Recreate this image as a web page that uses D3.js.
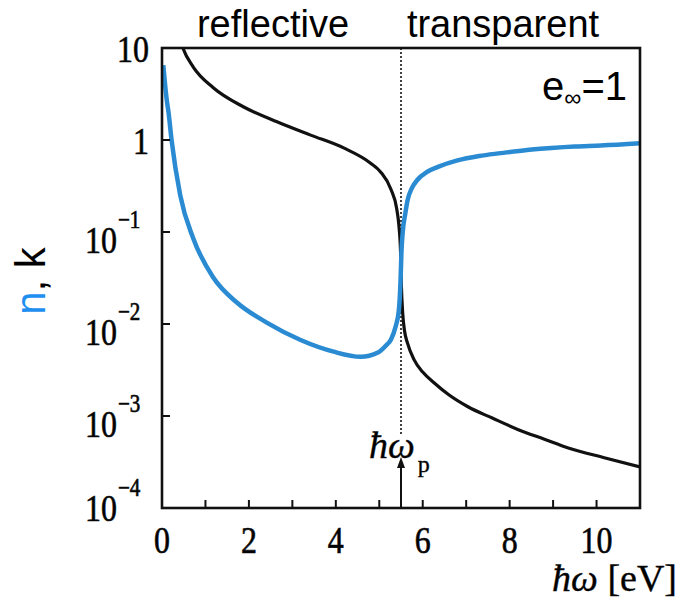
<!DOCTYPE html>
<html>
<head>
<meta charset="utf-8">
<style>
  body { margin: 0; background: white; }
  svg { display: block; }
</style>
</head>
<body>
<div id="chart"></div>
<script src="https://d3js.org/d3.v7.min.js"></script>
<script>
// extinction coefficient k (black)
const kOmega = [0.45, 0.48, 0.72, 1.18, 1.87, 2.66, 3.42, 4.18, 4.8, 5.03, 5.27, 5.4, 5.45, 5.49, 5.51, 5.54, 5.58, 5.65, 5.8, 6.0, 6.26, 6.6, 7.04, 7.6, 8.2, 8.8, 9.35, 10.2, 11.0];
const kValues = [11, 10, 6.2, 3.7, 2.3, 1.57, 1.13, 0.82, 0.56, 0.45, 0.29, 0.18, 0.12, 0.06, 0.025, 0.013, 0.0085, 0.0062, 0.0041, 0.003, 0.0023, 0.0017, 0.00126, 0.00095, 0.00071, 0.00056, 0.00045, 0.00035, 0.00028];

// refractive index n (blue)
const nOmega = [0.03, 0.11, 0.15, 0.22, 0.42, 0.72, 1.18, 1.73, 2.42, 3.19, 3.95, 4.57, 4.97, 5.15, 5.27, 5.38, 5.45, 5.49, 5.51, 5.54, 5.6, 5.65, 5.75, 5.88, 6.1, 6.35, 6.8, 7.3, 7.8, 8.4, 8.96, 9.5, 10.1, 11.0];
const nValues = [6.5, 2.7, 2.0, 1.0, 0.25, 0.085, 0.032, 0.017, 0.0103, 0.0067, 0.005, 0.0044, 0.0049, 0.0058, 0.0068, 0.0095, 0.014, 0.03, 0.06, 0.1, 0.16, 0.22, 0.3, 0.37, 0.45, 0.51, 0.6, 0.67, 0.72, 0.78, 0.82, 0.85, 0.87, 0.92];

const xTicks = [0, 2, 4, 6, 8, 10];
const xMinorTicks = [1, 2, 3, 4, 5, 6, 7, 8, 9, 10];
const yTicks = [10, 1, 0.1, 0.01, 0.001, 0.0001];
const yTickLabels = [["10", ""], ["1", ""], ["10", "\u22121"], ["10", "\u22122"], ["10", "\u22123"], ["10", "\u22124"]];
const plasmaOmega = 5.5;

const W = 679, H = 598;
const pLeft = 162, pRight = 640, pTop = 48, pBottom = 508;

const svg = d3.select("#chart").append("svg")
    .attr("width", W).attr("height", H);

const x = d3.scaleLinear().domain([0, 11]).range([pLeft, pRight]);
const y = d3.scaleLog().domain([1e-4, 10]).range([pBottom, pTop]);

svg.append("clipPath").attr("id", "clip")
    .append("rect").attr("x", pLeft).attr("y", pTop)
    .attr("width", pRight - pLeft).attr("height", pBottom - pTop);

// plasma frequency dotted line
svg.append("line")
    .attr("x1", x(plasmaOmega)).attr("x2", x(plasmaOmega))
    .attr("y1", pTop).attr("y2", 435)
    .attr("stroke", "#111").attr("stroke-width", 1.6)
    .attr("stroke-dasharray", "2,2");

const line = d3.line()
    .x(d => x(d[0]))
    .y(d => y(d[1]))
    .curve(d3.curveMonotoneX);

svg.append("path")
    .datum(kOmega.map((w, i) => [w, kValues[i]]))
    .attr("clip-path", "url(#clip)")
    .attr("fill", "none")
    .attr("stroke", "#111")
    .attr("stroke-width", 3.2)
    .attr("d", line);

svg.append("path")
    .datum(nOmega.map((w, i) => [w, nValues[i]]))
    .attr("clip-path", "url(#clip)")
    .attr("fill", "none")
    .attr("stroke", "#2a8bd2")
    .attr("stroke-width", 4.5)
    .attr("d", line);

// frame
svg.append("rect")
    .attr("x", pLeft).attr("y", pTop)
    .attr("width", pRight - pLeft).attr("height", pBottom - pTop)
    .attr("fill", "none").attr("stroke", "#111").attr("stroke-width", 2.6);

// inward ticks
svg.selectAll(".xt").data(xMinorTicks).enter().append("line")
    .attr("x1", d => x(d)).attr("x2", d => x(d))
    .attr("y1", pBottom).attr("y2", pBottom - 8)
    .attr("stroke", "#111").attr("stroke-width", 2);
svg.selectAll(".yt").data(yTicks).enter().append("line")
    .attr("x1", pLeft).attr("x2", pLeft + 8)
    .attr("y1", d => y(d)).attr("y2", d => y(d))
    .attr("stroke", "#111").attr("stroke-width", 2);

const serif = "'Liberation Serif', 'DejaVu Serif', serif";
const sans = "'Liberation Sans', Arial, sans-serif";

// scanned labels are narrow and tall: squeeze horizontally
function tickText(px, py, str, size, anchor) {
  return svg.append("text")
    .attr("transform", `translate(${px},${py}) scale(0.84,1)`)
    .attr("text-anchor", anchor)
    .attr("font-family", serif).attr("font-size", size)
    .attr("stroke", "#111").attr("stroke-width", 0.7)
    .text(str);
}

// x tick labels
xTicks.forEach(d => tickText(x(d), 553, d, 38, "middle"));

// y tick labels
yTicks.forEach((v, i) => {
  const [base, sup] = yTickLabels[i];
  const yy = y(v);
  if (!sup) {
    tickText(149, yy + 14, base, 38, "end");
  } else {
    const by = i === yTicks.length - 1 ? yy + 13 : yy + 21;
    tickText(117, by, base, 38, "end");
    tickText(118, by - 25, sup, 25, "start");
  }
});

// x axis label
const xl = svg.append("text")
    .attr("x", 677).attr("y", 591)
    .attr("text-anchor", "end")
    .attr("font-family", serif).attr("font-size", 38)
    .attr("stroke", "#111").attr("stroke-width", 0.4);
xl.append("tspan").attr("font-style", "italic").text("\u0127\u03c9");
xl.append("tspan").text(" [eV]");

// plasma label + arrow
const pl = svg.append("text")
    .attr("x", 369).attr("y", 458)
    .attr("font-family", serif).attr("font-size", 38)
    .attr("stroke", "#111").attr("stroke-width", 0.4);
pl.append("tspan").attr("font-style", "italic").text("\u0127\u03c9");
pl.append("tspan").attr("font-size", 24).attr("dy", 14).attr("dx", 3).text("p");

svg.append("line")
    .attr("x1", x(plasmaOmega)).attr("x2", x(plasmaOmega))
    .attr("y1", pBottom).attr("y2", 466)
    .attr("stroke", "#111").attr("stroke-width", 2);
svg.append("path")
    .attr("d", `M${x(plasmaOmega)},457 l-4,11 l8,0 z`)
    .attr("fill", "#111");

// y axis label
const yl = svg.append("text")
    .attr("transform", "translate(45,281) rotate(-90)")
    .attr("text-anchor", "middle")
    .attr("font-family", sans).attr("font-size", 42);
yl.append("tspan").attr("fill", "#1e8ff0").text("n");
yl.append("tspan").attr("fill", "#000").text(", k");

// region labels
svg.append("text")
    .attr("x", 273).attr("y", 37)
    .attr("text-anchor", "middle")
    .attr("font-family", sans).attr("font-size", 38)
    .text("reflective");
svg.append("text")
    .attr("x", 503).attr("y", 37)
    .attr("text-anchor", "middle")
    .attr("font-family", sans).attr("font-size", 38)
    .text("transparent");

// epsilon label
const el = svg.append("text")
    .attr("x", 627).attr("y", 100)
    .attr("text-anchor", "end")
    .attr("font-family", sans).attr("font-size", 40);
el.append("tspan").text("e");
el.append("tspan").attr("font-size", 24).attr("dy", 6).text("\u221e");
el.append("tspan").attr("dy", -6).text("=1");
</script>
</body>
</html>
